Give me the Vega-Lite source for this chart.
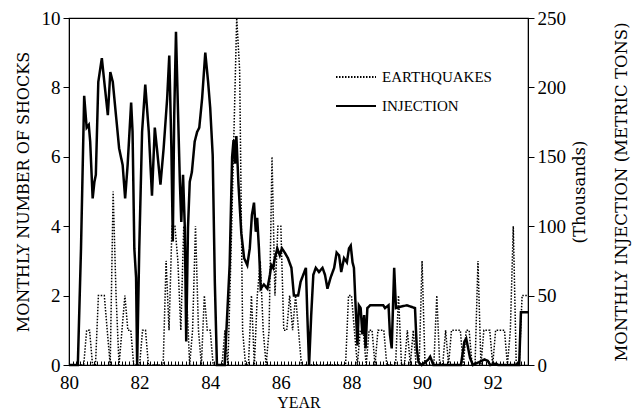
{
  "$schema": "https://vega.github.io/schema/vega-lite/v6.json",
  "width": 459,
  "height": 347,
  "autosize": "none",
  "padding": {"left": 69, "top": 18, "right": 107, "bottom": 49},
  "background": "white",
  "config": {
    "view": {"stroke": "black", "strokeWidth": 1.2},
    "axis": {"domainColor": "black", "tickColor": "black", "labelColor": "black", "titleColor": "black", "grid": false, "labelFont": "Liberation Serif", "titleFont": "DejaVu Serif", "titleFontWeight": "normal"}
  },
  "datasets": {
    "eq": [
      {"year":80,"shocks":0},{"year":80.083,"shocks":0},{"year":80.167,"shocks":0},{"year":80.25,"shocks":0},{"year":80.333,"shocks":0},{"year":80.417,"shocks":0},{"year":80.5,"shocks":1},{"year":80.583,"shocks":1},{"year":80.667,"shocks":0},{"year":80.75,"shocks":0},{"year":80.833,"shocks":2},{"year":80.917,"shocks":2},
      {"year":81,"shocks":2},{"year":81.083,"shocks":1},{"year":81.167,"shocks":0},{"year":81.25,"shocks":5},{"year":81.333,"shocks":2},{"year":81.417,"shocks":0},{"year":81.5,"shocks":1},{"year":81.583,"shocks":2},{"year":81.667,"shocks":1},{"year":81.75,"shocks":1},{"year":81.833,"shocks":0},{"year":81.917,"shocks":0},
      {"year":82,"shocks":0},{"year":82.083,"shocks":1},{"year":82.167,"shocks":1},{"year":82.25,"shocks":0},{"year":82.333,"shocks":0},{"year":82.417,"shocks":0},{"year":82.5,"shocks":0},{"year":82.583,"shocks":0},{"year":82.667,"shocks":0},{"year":82.75,"shocks":3},{"year":82.833,"shocks":1},{"year":82.917,"shocks":4},
      {"year":83,"shocks":4},{"year":83.083,"shocks":3},{"year":83.167,"shocks":1},{"year":83.25,"shocks":4},{"year":83.333,"shocks":2},{"year":83.417,"shocks":0},{"year":83.5,"shocks":1},{"year":83.583,"shocks":4},{"year":83.667,"shocks":1},{"year":83.75,"shocks":0},{"year":83.833,"shocks":2},{"year":83.917,"shocks":1},
      {"year":84,"shocks":1},{"year":84.083,"shocks":0},{"year":84.167,"shocks":0},{"year":84.25,"shocks":0},{"year":84.333,"shocks":0},{"year":84.417,"shocks":1},{"year":84.5,"shocks":0},{"year":84.583,"shocks":3},{"year":84.667,"shocks":6.5},{"year":84.75,"shocks":10},{"year":84.833,"shocks":8.5},{"year":84.917,"shocks":1},
      {"year":85,"shocks":0},{"year":85.083,"shocks":0},{"year":85.167,"shocks":2},{"year":85.25,"shocks":0},{"year":85.333,"shocks":2},{"year":85.417,"shocks":3},{"year":85.5,"shocks":1},{"year":85.583,"shocks":0},{"year":85.667,"shocks":1},{"year":85.75,"shocks":6},{"year":85.833,"shocks":2},{"year":85.917,"shocks":4},
      {"year":86,"shocks":4},{"year":86.083,"shocks":1},{"year":86.167,"shocks":1},{"year":86.25,"shocks":2},{"year":86.333,"shocks":1},{"year":86.417,"shocks":2},{"year":86.5,"shocks":1},{"year":86.583,"shocks":0},{"year":86.667,"shocks":0},{"year":86.75,"shocks":0},{"year":86.833,"shocks":0},{"year":86.917,"shocks":0},
      {"year":87,"shocks":0},{"year":87.083,"shocks":0},{"year":87.167,"shocks":0},{"year":87.25,"shocks":0},{"year":87.333,"shocks":0},{"year":87.417,"shocks":0},{"year":87.5,"shocks":0},{"year":87.583,"shocks":0},{"year":87.667,"shocks":0},{"year":87.75,"shocks":0},{"year":87.833,"shocks":0},{"year":87.917,"shocks":2},
      {"year":88,"shocks":2},{"year":88.083,"shocks":1},{"year":88.167,"shocks":0},{"year":88.25,"shocks":1},{"year":88.333,"shocks":1},{"year":88.417,"shocks":0},{"year":88.5,"shocks":1},{"year":88.583,"shocks":1},{"year":88.667,"shocks":0},{"year":88.75,"shocks":1},{"year":88.833,"shocks":1},{"year":88.917,"shocks":1},
      {"year":89,"shocks":0},{"year":89.083,"shocks":0},{"year":89.167,"shocks":0},{"year":89.25,"shocks":0},{"year":89.333,"shocks":2},{"year":89.417,"shocks":0},{"year":89.5,"shocks":0},{"year":89.583,"shocks":1},{"year":89.667,"shocks":0},{"year":89.75,"shocks":1},{"year":89.833,"shocks":0},{"year":89.917,"shocks":0},
      {"year":90,"shocks":3},{"year":90.083,"shocks":0},{"year":90.167,"shocks":0},{"year":90.25,"shocks":0},{"year":90.333,"shocks":0},{"year":90.417,"shocks":2},{"year":90.5,"shocks":0},{"year":90.583,"shocks":0},{"year":90.667,"shocks":1},{"year":90.75,"shocks":0},{"year":90.833,"shocks":1},{"year":90.917,"shocks":1},
      {"year":91,"shocks":1},{"year":91.083,"shocks":1},{"year":91.167,"shocks":0},{"year":91.25,"shocks":1},{"year":91.333,"shocks":1},{"year":91.417,"shocks":0},{"year":91.5,"shocks":0},{"year":91.583,"shocks":3},{"year":91.667,"shocks":0},{"year":91.75,"shocks":1},{"year":91.833,"shocks":1},{"year":91.917,"shocks":1},
      {"year":92,"shocks":0},{"year":92.083,"shocks":1},{"year":92.167,"shocks":1},{"year":92.25,"shocks":1},{"year":92.333,"shocks":1},{"year":92.417,"shocks":0},{"year":92.5,"shocks":1},{"year":92.583,"shocks":4},{"year":92.667,"shocks":0},{"year":92.75,"shocks":0},{"year":92.833,"shocks":2},{"year":92.917,"shocks":2},
      {"year":93,"shocks":2}
    ],
    "inj": [
      {"year":80,"inj":0},{"year":80.25,"inj":0},{"year":80.34,"inj":84},{"year":80.43,"inj":194},{"year":80.5,"inj":171},{"year":80.56,"inj":173},{"year":80.6,"inj":161},{"year":80.67,"inj":120},{"year":80.72,"inj":132},{"year":80.76,"inj":137},{"year":80.83,"inj":204},{"year":80.93,"inj":221},
      {"year":81,"inj":204},{"year":81.1,"inj":180},{"year":81.17,"inj":211},{"year":81.24,"inj":204},{"year":81.33,"inj":180},{"year":81.42,"inj":156},{"year":81.52,"inj":144},{"year":81.59,"inj":120},{"year":81.66,"inj":144},{"year":81.76,"inj":189},{"year":81.8,"inj":168},{"year":81.85,"inj":84},{"year":81.9,"inj":63},{"year":81.93,"inj":0},{"year":81.99,"inj":84},
      {"year":82.07,"inj":168},{"year":82.16,"inj":202},{"year":82.26,"inj":168},{"year":82.35,"inj":122},{"year":82.43,"inj":171},{"year":82.49,"inj":156},{"year":82.59,"inj":130},{"year":82.68,"inj":156},{"year":82.78,"inj":192},{"year":82.84,"inj":223},{"year":82.9,"inj":156},{"year":82.94,"inj":89},{"year":82.98,"inj":180},
      {"year":83.03,"inj":240},{"year":83.09,"inj":180},{"year":83.14,"inj":132},{"year":83.18,"inj":103},{"year":83.23,"inj":137},{"year":83.28,"inj":99},{"year":83.32,"inj":17},{"year":83.37,"inj":99},{"year":83.42,"inj":132},{"year":83.48,"inj":139},{"year":83.56,"inj":161},{"year":83.63,"inj":168},{"year":83.69,"inj":171},{"year":83.77,"inj":192},{"year":83.86,"inj":225},{"year":83.94,"inj":204},
      {"year":84,"inj":185},{"year":84.07,"inj":151},{"year":84.13,"inj":60},{"year":84.19,"inj":0},{"year":84.41,"inj":0},{"year":84.55,"inj":72},{"year":84.62,"inj":150},{"year":84.66,"inj":162},{"year":84.7,"inj":145},{"year":84.74,"inj":165},{"year":84.8,"inj":130},{"year":84.88,"inj":95},{"year":84.96,"inj":77},
      {"year":85.05,"inj":72},{"year":85.12,"inj":84},{"year":85.18,"inj":108},{"year":85.24,"inj":117},{"year":85.29,"inj":96},{"year":85.33,"inj":106},{"year":85.38,"inj":84},{"year":85.43,"inj":55},{"year":85.52,"inj":58},{"year":85.62,"inj":55},{"year":85.69,"inj":65},{"year":85.73,"inj":72},{"year":85.78,"inj":70},{"year":85.83,"inj":77},{"year":85.9,"inj":84},{"year":85.97,"inj":79},
      {"year":86.03,"inj":84},{"year":86.11,"inj":81},{"year":86.2,"inj":77},{"year":86.3,"inj":70},{"year":86.37,"inj":50},{"year":86.49,"inj":50},{"year":86.56,"inj":60},{"year":86.71,"inj":70},{"year":86.75,"inj":36},{"year":86.8,"inj":0},{"year":86.86,"inj":36},{"year":86.92,"inj":65},{"year":86.99,"inj":70},
      {"year":87.08,"inj":67},{"year":87.18,"inj":70},{"year":87.25,"inj":65},{"year":87.32,"inj":55},{"year":87.41,"inj":63},{"year":87.51,"inj":70},{"year":87.58,"inj":81},{"year":87.65,"inj":79},{"year":87.71,"inj":67},{"year":87.79,"inj":77},{"year":87.87,"inj":74},{"year":87.93,"inj":84},{"year":87.98,"inj":86},
      {"year":88.03,"inj":74},{"year":88.07,"inj":70},{"year":88.12,"inj":41},{"year":88.17,"inj":14},{"year":88.21,"inj":43},{"year":88.26,"inj":41},{"year":88.31,"inj":22},{"year":88.36,"inj":36},{"year":88.4,"inj":12},{"year":88.45,"inj":41},{"year":88.53,"inj":43},{"year":88.9,"inj":43},{"year":88.95,"inj":41},
      {"year":89.05,"inj":43},{"year":89.09,"inj":22},{"year":89.14,"inj":12},{"year":89.21,"inj":70},{"year":89.26,"inj":41},{"year":89.38,"inj":42},{"year":89.57,"inj":43},{"year":89.8,"inj":41},{"year":89.85,"inj":12},{"year":89.9,"inj":2},{"year":89.99,"inj":0},
      {"year":90.18,"inj":4},{"year":90.23,"inj":6},{"year":90.32,"inj":0},{"year":91.1,"inj":0},{"year":91.2,"inj":17},{"year":91.25,"inj":19},{"year":91.29,"inj":14},{"year":91.36,"inj":5},{"year":91.44,"inj":0},{"year":91.77,"inj":4},{"year":91.86,"inj":3},{"year":91.93,"inj":0},
      {"year":92.1,"inj":1},{"year":92.15,"inj":0},{"year":92.75,"inj":0},{"year":92.8,"inj":38},{"year":93,"inj":38}
    ]
  },
  "layer": [
    {
      "data": {"name": "eq"},
      "mark": {"type": "line", "strokeWidth": 1.5, "color": "black"},
      "encoding": {
        "x": {"field": "year", "type": "quantitative", "scale": {"domain": [80, 93], "nice": false, "zero": false},
          "axis": {"orient": "bottom", "tickCount": 156, "tickSize": -4, "labelPadding": 12, "labelExpr": "datum.value % 2 === 0 ? format(datum.value, 'd') : ''", "labelOverlap": false, "labelFlush": false, "labelFontSize": 19, "title": "YEAR", "titleFont": "Liberation Serif", "titleFontSize": 16, "titlePadding": 2}},
        "y": {"field": "shocks", "type": "quantitative", "scale": {"domain": [0, 10], "nice": false},
          "axis": {"orient": "left", "values": [0, 2, 4, 6, 8, 10], "tickSize": 6, "labelPadding": 3, "labelFontSize": 19, "title": "MONTHLY NUMBER OF SHOCKS", "titleFontSize": 16, "titlePadding": 10}},
        "strokeDash": {"datum": "EARTHQUAKES", "type": "nominal",
          "scale": {"domain": ["EARTHQUAKES", "INJECTION"], "range": [[1.5, 1.5], [1, 0]]},
          "legend": {"orient": "none", "legendX": 266, "legendY": 38, "title": null, "symbolType": "stroke", "symbolSize": 1600, "symbolStrokeWidth": 2, "symbolStrokeColor": "black", "labelFont": "Liberation Serif", "labelFontSize": 15, "labelColor": "black", "labelOffset": 5, "rowPadding": 0}}
      }
    },
    {
      "data": {"name": "inj"},
      "mark": {"type": "line", "strokeWidth": 2.5, "color": "black"},
      "encoding": {
        "x": {"field": "year", "type": "quantitative"},
        "y": {"field": "inj", "type": "quantitative", "scale": {"domain": [0, 250], "nice": false},
          "axis": {"orient": "right", "values": [0, 50, 100, 150, 200, 250], "tickSize": 6, "labelPadding": 3, "labelFontSize": 19, "title": ["(Thousands)", "MONTHLY INJECTION (METRIC TONS)"], "titleAngle": 270, "titleBaseline": "top", "titleFontSize": 16.5, "titleLineHeight": 42, "titlePadding": -36}},
        "strokeDash": {"datum": "INJECTION", "type": "nominal"}
      }
    }
  ],
  "resolve": {"scale": {"y": "independent"}}
}
